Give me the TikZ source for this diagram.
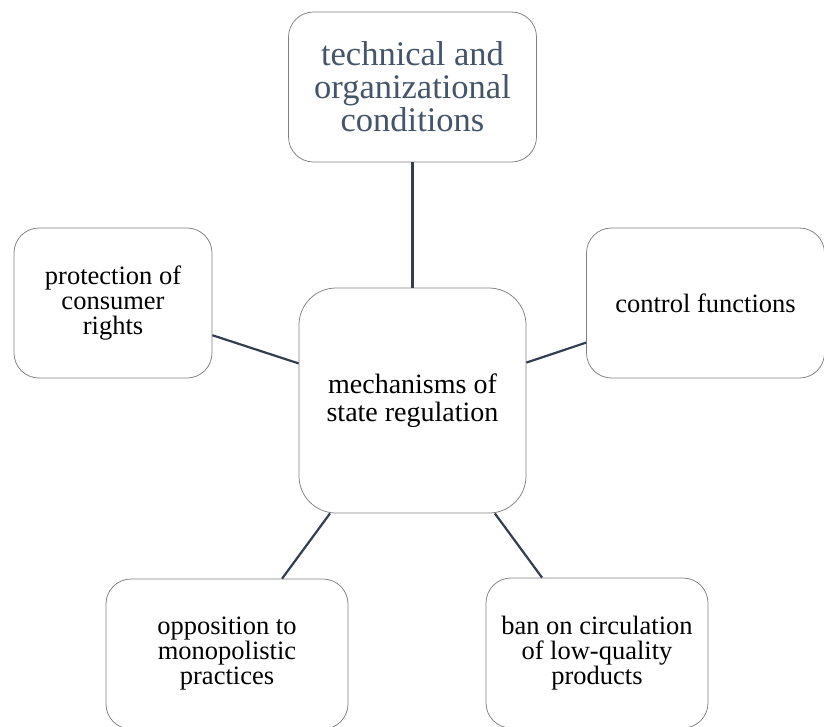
\documentclass[tikz,border=0pt]{standalone}
\usepackage{fontspec}
\setmainfont{Liberation Serif}
\usepackage{tikz}

\definecolor{boxgray}{RGB}{128,128,128}
\definecolor{linkslate}{RGB}{51,63,80}
\definecolor{titleslate}{RGB}{68,84,106}

\tikzset{
  unit/.style={shape=rectangle,draw=boxgray,line width=.75pt,fill=white,
    rounded corners=25pt,align=center,inner sep=0pt,minimum height=150pt,
    font=\fontsize{26.5}{25}\selectfont},
  link/.style={draw=linkslate,line width=2.2pt},
}

\begin{document}
\begin{tikzpicture}[x=1pt,y=-1pt]
      \useasboundingbox (0,0) rectangle (824,726);
      % centre
      \node[unit,minimum width=227pt,minimum height=225pt,rounded corners=37pt,font=\fontsize{28}{28.5}\selectfont] (mech) at (412.5,400.5) {mechanisms of\\state regulation};
      % outer ring
      \node[unit,minimum width=248pt,text=titleslate,font=\fontsize{34.5}{33}\selectfont] (tech) at (412.5,87) {technical and\\organizational\\conditions};
      \node[unit,minimum width=198pt] (prot) at (113,303) {protection of\\consumer\\rights};
      \node[unit,minimum width=238pt] (ctrl) at (705.5,303) {control functions};
      \node[unit,minimum width=242pt] (mono) at (227,654) {opposition to\\monopolistic\\practices};
      \node[unit,minimum width=222pt] (ban) at (597,653) {ban on circulation\\of low-quality\\products};
      % mech -> ring
      \draw[link] (mech) -- (tech);
      \draw[link] (mech) -- (prot);
      \draw[link] (mech) -- (ctrl);
      \draw[link] (mech) -- (mono);
      \draw[link] (mech) -- (ban);
\end{tikzpicture}
\end{document}
